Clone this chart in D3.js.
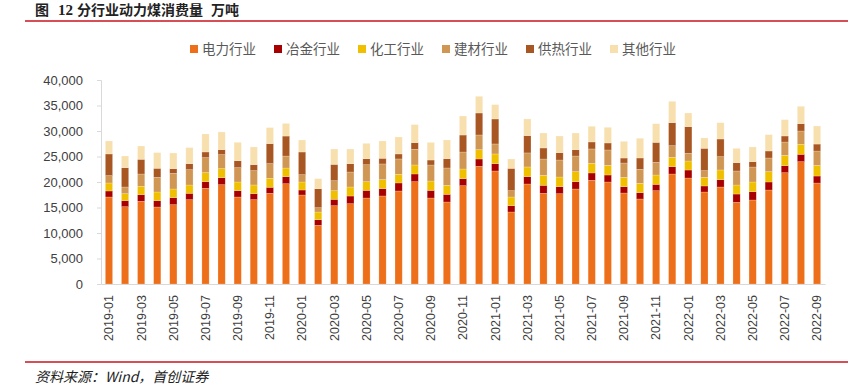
<!DOCTYPE html>
<html>
<head>
<meta charset="utf-8">
<script src="https://cdn.jsdelivr.net/npm/d3@7"></script>
<style>
  body { margin: 0; background: #fff; }
  svg { display: block; font-family: "Liberation Sans", "Noto Sans CJK SC", sans-serif; }
</style>
</head>
<body>
<svg id="chart" width="848" height="389"></svg>
<script>
// months 2019-01 .. 2022-09
const months = [];
for (let y = 2019; y <= 2022; y++) {
    for (let m = 1; m <= 12; m++) {
        if (y === 2022 && m > 9) break;
        months.push(y + "-" + String(m).padStart(2, "0"));
    }
}

const seriesNames = ["电力行业", "冶金行业", "化工行业", "建材行业", "供热行业", "其他行业"];
const colors = ["#EE6F19", "#A80000", "#F0C000", "#D09654", "#A95722", "#F8DFAE"];

// 万吨
const power = [17060, 15160, 16210, 15100, 15560, 16540, 18760, 19480, 17060, 16540, 17780, 19670,
    17450, 11500, 15360, 15750, 16860, 17260, 18240, 20070, 16860, 16080, 19280, 23070,
    22160, 14120, 19610, 17780, 17710, 18630, 20330, 20000, 17840, 16670, 18300, 21570,
    20780, 18040, 19020, 16010, 16470, 18430, 21830, 23990, 19800];
const metallurgy = [1180, 1180, 1310, 1240, 1370, 1240, 1310, 1370, 1240, 1180, 1180, 1370,
    980, 1110, 1240, 1500, 1500, 1440, 1570, 1500, 1500, 1500, 1370, 1440,
    1440, 1240, 1440, 1570, 1370, 1440, 1440, 1370, 1240, 1240, 1240, 1440,
    1570, 1180, 1440, 1630, 1630, 1570, 1370, 1440, 1370];
const chemical = [1570, 1370, 1630, 1700, 1700, 1630, 1770, 1770, 1700, 1700, 1770, 1700,
    1570, 1500, 1700, 1770, 1700, 1770, 1700, 1770, 1830, 1770, 1900, 1830,
    1900, 1700, 1900, 1960, 1900, 1960, 1900, 1900, 1830, 1830, 1830, 1830,
    1770, 1700, 1900, 1770, 1900, 2030, 2030, 1960, 2090];
const buildingMat = [1440, 1310, 2420, 2880, 3070, 3010, 2940, 2750, 2810, 2810, 2880, 2350,
    1440, 850, 1960, 2940, 3330, 3070, 3010, 3070, 3140, 3400, 3330, 2880,
    1960, 1240, 2750, 3200, 3330, 3070, 2810, 3010, 2810, 2750, 2480, 2290,
    1500, 1310, 2610, 2750, 2940, 2680, 2610, 2610, 2810];
const heating = [4250, 3790, 2880, 1770, 920, 1180, 1110, 980, 1370, 1180, 3920, 3920,
    4440, 3730, 3200, 1630, 1180, 1110, 980, 1310, 980, 1830, 3330, 4310,
    4900, 4380, 3400, 2160, 1440, 1240, 1370, 1370, 980, 2220, 3920, 4510,
    5230, 4380, 3460, 1630, 1050, 1370, 1180, 1440, 1370];
const others = [2550, 2290, 2610, 3070, 3070, 3140, 3530, 3460, 3600, 3460, 3140, 2480,
    2350, 1960, 3010, 2880, 3010, 3400, 3330, 3530, 3460, 3660, 3730, 3270,
    2810, 1830, 3270, 2940, 3270, 3270, 3070, 3070, 3270, 3860, 3660, 4180,
    2680, 2030, 3200, 2810, 2880, 3200, 3200, 3400, 3530];

const yTicks = [0, 5000, 10000, 15000, 20000, 25000, 30000, 35000, 40000];

const seriesValues = [power, metallurgy, chemical, buildingMat, heating, others];
const keys = seriesNames;
const table = months.map((m, i) => {
    const row = { month: m };
    keys.forEach((k, j) => { row[k] = seriesValues[j][i]; });
    return row;
});

const svg = d3.select("#chart");
const margin = { left: 101, right: 23, top: 80, bottom: 105 };
const width = 848, height = 389;

const x = d3.scaleBand()
    .domain(months)
    .range([margin.left, width - margin.right])
    .paddingInner(0.55)
    .paddingOuter(0.27);

const y = d3.scaleLinear()
    .domain([0, 40000])
    .range([height - margin.bottom, margin.top]);

// title
const title = svg.append("text")
    .attr("x", 35)
    .attr("y", 15)
    .attr("font-family", "Noto Sans CJK SC, sans-serif")
    .attr("font-weight", "bold")
    .attr("font-size", 14)
    .attr("fill", "#222");
title.append("tspan").text("图");
title.append("tspan").attr("dx", 9)
    .attr("font-family", "Liberation Serif, serif")
    .attr("font-size", 15)
    .text("12");
title.append("tspan").attr("dx", 4).text("分行业动力煤消费量");
title.append("tspan").attr("dx", 8).text("万吨");

svg.append("line")
    .attr("x1", 25).attr("x2", width)
    .attr("y1", 21).attr("y2", 21)
    .attr("stroke", "#C8141E")
    .attr("stroke-width", 1.6);

// legend
const legend = svg.append("g");
seriesNames.forEach((name, i) => {
    const g = legend.append("g").attr("transform", `translate(${190 + i * 84},49)`);
    g.append("rect")
        .attr("x", 0).attr("y", -4)
        .attr("width", 8).attr("height", 8)
        .attr("fill", colors[i]);
    g.append("text")
        .attr("x", 12).attr("dy", "0.36em")
        .attr("font-family", "Noto Sans CJK SC, sans-serif")
        .attr("font-size", 13.5)
        .attr("fill", "#595959")
        .text(name);
});

// y axis
const yAxis = svg.append("g")
    .attr("transform", `translate(${margin.left},0)`)
    .call(d3.axisLeft(y).tickValues(yTicks).tickSize(4).tickPadding(14)
        .tickFormat(d3.format(",")));
yAxis.select(".domain").attr("stroke", "#D9D9D9");
yAxis.selectAll(".tick line").attr("stroke", "#D9D9D9");
yAxis.selectAll("text")
    .attr("font-size", 13)
    .attr("fill", "#404040");

// bars
const stack = d3.stack().keys(keys);
const stacked = stack(table);

svg.append("g")
    .selectAll("g")
    .data(stacked)
    .join("g")
    .attr("fill", (d, i) => colors[i])
    .selectAll("rect")
    .data(d => d)
    .join("rect")
    .attr("x", d => x(d.data.month))
    .attr("y", d => y(d[1]))
    .attr("width", x.bandwidth())
    .attr("height", d => y(d[0]) - y(d[1]))
    .attr("stroke", "#fff")
    .attr("stroke-opacity", 0.35)
    .attr("stroke-width", 0.6);

// x axis
const xAxis = svg.append("g")
    .attr("transform", `translate(0,${height - margin.bottom})`)
    .call(d3.axisBottom(x)
        .tickValues(months.filter((m, i) => i % 2 === 0))
        .tickSize(0)
        .tickPadding(0));
xAxis.select(".domain").attr("stroke", "#D9D9D9").attr("stroke-width", 1.2);
xAxis.selectAll("text")
    .attr("font-size", 12.5)
    .attr("fill", "#404040")
    .attr("text-anchor", "end")
    .attr("transform", "rotate(-90)")
    .attr("x", -11)
    .attr("y", 0)
    .attr("dy", "0.35em");

// footer
svg.append("line")
    .attr("x1", 25).attr("x2", width)
    .attr("y1", 362).attr("y2", 362)
    .attr("stroke", "#C8141E")
    .attr("stroke-width", 1.6);

svg.append("text")
    .attr("x", 35)
    .attr("y", 382)
    .attr("font-family", "Noto Sans CJK SC, serif")
    .attr("font-style", "italic")
    .attr("font-size", 14)
    .attr("fill", "#222")
    .text("资料来源：Wind，首创证券");
</script>
</body>
</html>
